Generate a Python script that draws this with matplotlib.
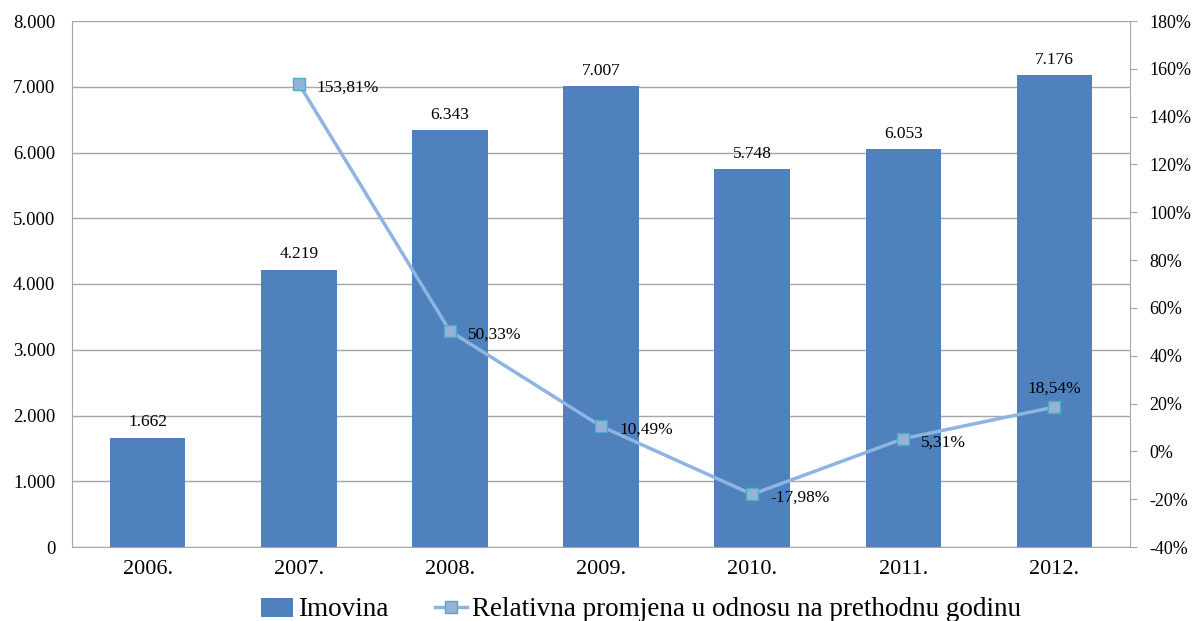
import numpy as np
import matplotlib
matplotlib.use("Agg")
import matplotlib.pyplot as plt
from matplotlib.ticker import FuncFormatter, MultipleLocator

plt.rcParams['font.family'] = ['Liberation Serif', 'DejaVu Serif']

years = ["2006.", "2007.", "2008.", "2009.", "2010.", "2011.", "2012."]
imovina = [1662, 4219, 6343, 7007, 5748, 6053, 7176]
promjena = [None, 153.81, 50.33, 10.49, -17.98, 5.31, 18.54]

bar_color = "#4F81BD"
line_color = "#8DB4E2"
grid_color = "#A6A6A6"

fig = plt.figure(figsize=(11.95, 6.21), dpi=100)
ax = fig.add_axes([72 / 1195, 1 - 547 / 621, (1130 - 72) / 1195, (547 - 21) / 621])
ax2 = ax.twinx()

x = np.arange(len(years))
ax.bar(x, imovina, width=0.5, color=bar_color, zorder=2, label="Imovina")
for xi, v in zip(x, imovina):
    ax.text(xi, v + 110, f"{v:,}".replace(",", "."), ha="center", va="bottom", fontsize=12.5)

ax.set_xlim(-0.5, len(years) - 0.5)
ax.set_ylim(0, 8000)
ax.yaxis.set_major_locator(MultipleLocator(1000))
ax.yaxis.set_major_formatter(FuncFormatter(lambda v, p: f"{int(v):,}".replace(",", ".")))
ax.set_xticks(x)
ax.set_xticklabels(years, fontsize=16)
ax.tick_params(axis="y", labelsize=13.5, length=0, pad=12)
ax.tick_params(axis="x", length=0, pad=9)
ax.grid(axis="y", color=grid_color, linewidth=1, zorder=0)
ax.set_axisbelow(True)
for s in ["top", "right"]:
    ax.spines[s].set_visible(False)
ax.spines["left"].set_color(grid_color)
ax.spines["bottom"].set_color(grid_color)

px = [xi for xi, p in zip(x, promjena) if p is not None]
py = [p for p in promjena if p is not None]
ax2.plot(px, py, color=line_color, linewidth=2.5, marker="s", markersize=8,
         markerfacecolor="#95B3D7", markeredgecolor="#4BACC6", markeredgewidth=1,
         zorder=3, label="Relativna promjena u odnosu na prethodnu godinu")
for xi, p in zip(px, py):
    lbl = f"{p:.2f}%".replace(".", ",")
    if xi == len(years) - 1:
        ax2.text(xi, p + 4.5, lbl, ha="center", va="bottom", fontsize=12.5)
    else:
        ax2.text(xi + 0.12, p - 1.5, lbl, ha="left", va="center", fontsize=12.5)

ax2.set_ylim(-40, 180)
ax2.yaxis.set_major_locator(MultipleLocator(20))
ax2.yaxis.set_major_formatter(FuncFormatter(lambda v, p: f"{int(round(v))}%"))
ax2.tick_params(axis="y", labelsize=13, length=5, color=grid_color, pad=9)
for s in ["top", "left", "bottom"]:
    ax2.spines[s].set_visible(False)
ax2.spines["right"].set_color(grid_color)

h1, l1 = ax.get_legend_handles_labels()
h2, l2 = ax2.get_legend_handles_labels()
fig.legend(h1 + h2, l1 + l2, loc="center", bbox_to_anchor=(641 / 1195, 1 - 610 / 621),
           ncol=2, frameon=False, fontsize=19.5, handlelength=1.2, handletextpad=0.18,
           columnspacing=1.7, borderpad=0)

fig.savefig("out.png", dpi=100)
